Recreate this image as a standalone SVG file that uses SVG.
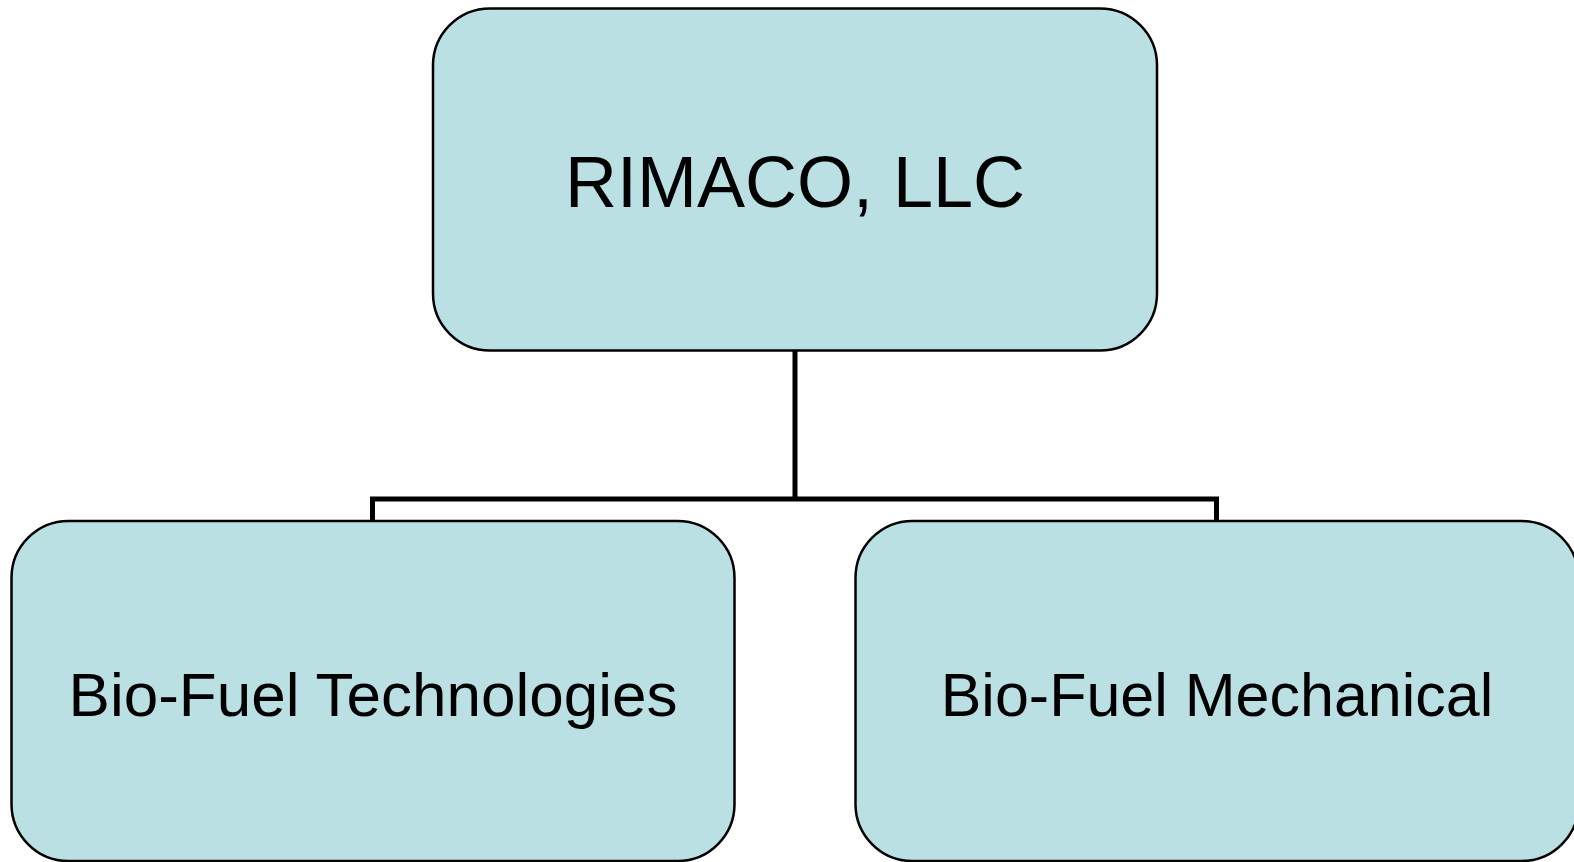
<svg xmlns="http://www.w3.org/2000/svg" width="1574" height="862" viewBox="0 0 1574 862">
<style>
.box{fill:#bbe0e3;stroke:#000;stroke-width:2.5}
.lbl{font-family:"Liberation Sans",Arial,sans-serif;fill:#000;text-anchor:middle}
.conn{fill:none;stroke:#000;stroke-width:5}
</style>
<rect width="1574" height="862" fill="#fff"/>
<g id="connectors">
<path class="conn" d="M795,350 V499 M372.5,521 V499 H1216.5 V521"/>
</g>
<g id="n-rimaco">
<rect class="box" x="433" y="8.5" width="724" height="342" rx="57" ry="57"/>
<text class="lbl" x="795" y="207" font-size="72">RIMACO, LLC</text>
</g>
<g id="n-tech">
<rect class="box" x="11.5" y="521" width="723" height="340" rx="57" ry="57"/>
<text class="lbl" x="373" y="716" font-size="62">Bio-Fuel Technologies</text>
</g>
<g id="n-mech">
<rect class="box" x="855.5" y="521" width="723" height="340" rx="57" ry="57"/>
<text class="lbl" x="1217" y="716" font-size="61">Bio-Fuel Mechanical</text>
</g>
</svg>
